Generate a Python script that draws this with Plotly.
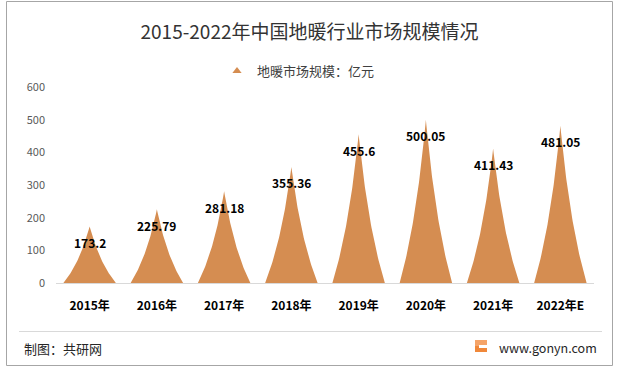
import numpy as np
import plotly.graph_objects as go

# ---- data ----
categories = ["2015年", "2016年", "2017年", "2018年", "2019年", "2020年", "2021年", "2022年E"]
values = [173.2, 225.79, 281.18, 355.36, 455.6, 500.05, 411.43, 481.05]
series_name = "地暖市场规模：亿元"
y_ticks = [0, 100, 200, 300, 400, 500, 600]
title_text = "2015-2022年中国地暖行业市场规模情况"
source_text = "制图：共研网"
site_text = "www.gonyn.com"

# ---- style / layout constants ----
W, H = 619, 371
ML, MR, MT, MB = 56, 25, 87, 88
PW, PH = W - ML - MR, H - MT - MB
SPIKE_COLOR = "#D58D51"
HALF_W = 0.39          # half base width of spike, category units
FONT = "Noto Sans CJK SC, Microsoft YaHei, sans-serif"


def px_to_paper_x(px):
    return (px - ML) / PW


def px_to_paper_y(py):
    return (H - MB - py) / PH


# spike outline profile (relative), concave sides
h = np.linspace(0, 1, 60)
prof = (1 - h) / (1 + 0.75 * h)

xs, ys = [], []
for i, v in enumerate(values):
    left_x = list(i - HALF_W * prof)
    left_y = list(v * h)
    right_x = list(i + HALF_W * prof[::-1])
    right_y = list(v * h[::-1])
    xs += left_x + right_x + [None]
    ys += left_y + right_y + [None]

fig = go.Figure()
fig.add_trace(go.Scatter(
    x=xs, y=ys, mode="lines", fill="toself", fillcolor=SPIKE_COLOR,
    line=dict(width=0, color=SPIKE_COLOR), showlegend=False, hoverinfo="skip",
))
# legend entry
fig.add_trace(go.Scatter(
    x=[None], y=[None], mode="markers", name=series_name,
    marker=dict(symbol="triangle-up", size=8, color=SPIKE_COLOR),
))

# data labels
for i, v in enumerate(values):
    fig.add_annotation(
        x=i, y=v, xref="x", yref="y", text=f"{v:g}", showarrow=False,
        yshift=-16, yanchor="middle",
        font=dict(family=FONT, size=12, color="#000000", weight="bold"),
    )

# footer texts
fig.add_annotation(
    x=px_to_paper_x(22), y=px_to_paper_y(348), xref="paper", yref="paper",
    text=source_text, showarrow=False, xanchor="left", yanchor="middle",
    font=dict(family=FONT, size=13, color="#262626"),
)
fig.add_annotation(
    x=px_to_paper_x(497), y=px_to_paper_y(347), xref="paper", yref="paper",
    text=site_text, showarrow=False, xanchor="left", yanchor="middle",
    font=dict(family=FONT, size=12.5, color="#262626"),
)

shapes = []
# outer border
shapes.append(dict(type="rect", xref="paper", yref="paper",
                   x0=px_to_paper_x(6.5), x1=px_to_paper_x(612.5),
                   y0=px_to_paper_y(365.5), y1=px_to_paper_y(1.5),
                   line=dict(color="#A6A6A6", width=1), fillcolor="rgba(0,0,0,0)", layer="below"))
# footer separator
shapes.append(dict(type="line", xref="paper", yref="paper",
                   x0=px_to_paper_x(19), x1=px_to_paper_x(602),
                   y0=px_to_paper_y(331.5), y1=px_to_paper_y(331.5),
                   line=dict(color="#D9D9D9", width=1)))
# logo icon
shapes.append(dict(type="rect", xref="paper", yref="paper",
                   x0=px_to_paper_x(475), x1=px_to_paper_x(487),
                   y0=px_to_paper_y(352), y1=px_to_paper_y(340),
                   line=dict(width=0), fillcolor="#F0883A"))
shapes.append(dict(type="rect", xref="paper", yref="paper",
                   x0=px_to_paper_x(475), x1=px_to_paper_x(487),
                   y0=px_to_paper_y(346), y1=px_to_paper_y(340),
                   line=dict(width=0), fillcolor="#F5A468"))
shapes.append(dict(type="rect", xref="paper", yref="paper",
                   x0=px_to_paper_x(479), x1=px_to_paper_x(487),
                   y0=px_to_paper_y(348), y1=px_to_paper_y(345),
                   line=dict(width=0), fillcolor="#FFFFFF"))

fig.update_layout(
    width=W, height=H,
    margin=dict(l=ML, r=MR, t=MT, b=MB, pad=0),
    paper_bgcolor="white", plot_bgcolor="white",
    font=dict(family=FONT, color="#404040"),
    title=dict(text=title_text, x=0.5, xanchor="center", xref="container",
               y=1 - 32 / H, yanchor="middle", yref="container",
               font=dict(family=FONT, size=19, color="#333333")),
    legend=dict(orientation="h", x=px_to_paper_x(217), xanchor="left",
                y=px_to_paper_y(71), yanchor="middle",
                font=dict(family=FONT, size=13, color="#404040"),
                bgcolor="rgba(0,0,0,0)", itemwidth=30),
    xaxis=dict(range=[-0.5, len(categories) - 0.5], tickmode="array",
               tickvals=list(range(len(categories))), ticktext=categories,
               showgrid=False, zeroline=False, showline=True,
               linecolor="#D9D9D9", linewidth=1, ticks="",
               ticklabelstandoff=12,
               tickfont=dict(family=FONT, size=12, color="#000000", weight="bold"),
               fixedrange=True),
    yaxis=dict(range=[0, 600], tickmode="array", tickvals=y_ticks,
               showgrid=False, zeroline=False, showline=False, ticks="",
               ticklabelstandoff=10,
               tickfont=dict(family=FONT, size=11, color="#595959"),
               fixedrange=True),
    shapes=shapes,
    showlegend=True,
)

fig.write_html("out.html", config={"displayModeBar": False},
               post_script="document.body.style.margin='0';document.body.style.overflow='hidden';")
